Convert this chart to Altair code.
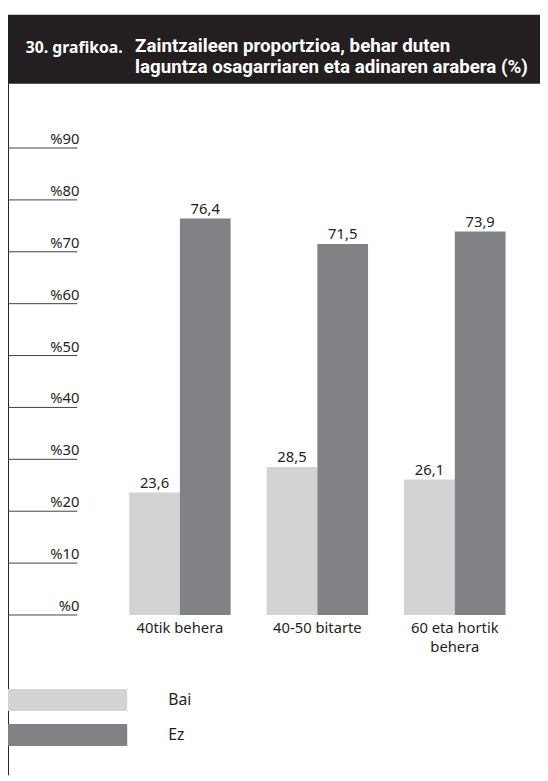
import altair as alt
import pandas as pd

# ---- data ----
CATEGORIES = ["40tik behera", "40-50 bitarte", "60 eta hortik\nbehera"]
SERIES = ["Bai", "Ez"]
BAI = [23.6, 28.5, 26.1]
EZ = [76.4, 71.5, 73.9]
TICKS = [0, 10, 20, 30, 40, 50, 60, 70, 80, 90]
TICK_LABELS = ["%0", "%10", "%20", "%30", "%40", "%50", "%60", "%70", "%80", "%90"]
TITLE_NUM = "30. grafikoa."
TITLE_LINE1 = "Zaintzaileen proportzioa, behar duten"
TITLE_LINE2 = "laguntza osagarriaren eta adinaren arabera (%)"
COLORS = ["#d1d3d4", "#808285"]

rows = []
for c, b, e in zip(CATEGORIES, BAI, EZ):
    rows.append({"cat": c, "serie": "Bai", "v": b})
    rows.append({"cat": c, "serie": "Ez", "v": e})
df = pd.DataFrame(rows)
df["lbl"] = df["v"].map(lambda x: f"{x:.1f}".replace(".", ","))

ticks = pd.DataFrame({"v": TICKS, "lab": TICK_LABELS})
one = pd.DataFrame({"k": [0]})

W, H = 540, 773
DARK = "#231f20"
FONT = "Noto Sans"
NARROW = "Liberation Sans Narrow, Roboto"

xs = alt.Scale(domain=CATEGORIES, range=[123, 505], paddingInner=0.262, paddingOuter=0)
ys = alt.Scale(domain=[0, 90], range=[610.3, 136.3])
xo = alt.Scale(domain=SERIES, paddingInner=0, paddingOuter=0)

banner = alt.Chart(one).mark_rect(color=DARK).encode(
    x=alt.value(0), x2=alt.value(W), y=alt.value(1), y2=alt.value(71))

title_num = alt.Chart(one).mark_text(
    text=TITLE_NUM, font="Noto Sans", fontWeight="bold", fontSize=16,
    color="white", align="left", baseline="alphabetic").encode(
    x=alt.value(18), y=alt.value(40))

title_l1 = alt.Chart(one).mark_text(
    text=TITLE_LINE1, font=NARROW, fontWeight="bold", fontSize=19,
    color="white", align="left", baseline="alphabetic").encode(
    x=alt.value(129), y=alt.value(39))

title_l2 = alt.Chart(one).mark_text(
    text=TITLE_LINE2, font=NARROW, fontWeight="bold", fontSize=19,
    color="white", align="left", baseline="alphabetic").encode(
    x=alt.value(129), y=alt.value(60))

border = alt.Chart(one).mark_rule(color=DARK, strokeWidth=1).encode(
    x=alt.value(0.5), y=alt.value(71), y2=alt.value(H))

tick_rules = alt.Chart(ticks).mark_rule(color="#414042", strokeWidth=1).encode(
    x=alt.value(0), x2=alt.value(70.3),
    y=alt.Y("v:Q", scale=ys, axis=None))

tick_text = alt.Chart(ticks).mark_text(
    align="right", baseline="alphabetic", dy=-4, font=FONT, fontSize=15, color=DARK).encode(
    x=alt.value(72.5), y=alt.Y("v:Q", scale=ys, axis=None), text="lab:N")

bars = alt.Chart(df).mark_bar().encode(
    x=alt.X("cat:N", scale=xs, axis=None, sort=CATEGORIES),
    xOffset=alt.XOffset("serie:N", scale=xo, sort=SERIES),
    y=alt.Y("v:Q", scale=ys, axis=None),
    color=alt.Color("serie:N", scale=alt.Scale(domain=SERIES, range=COLORS),
                    legend=alt.Legend(
                        title=None, orient="none", legendX=0, legendY=685.3,
                        symbolType="M-1,-0.185H1V0.185H-1Z", symbolSize=14641,
                        symbolStrokeWidth=0, clipHeight=22.4, rowPadding=12.6,
                        labelOffset=41.7, labelFont=FONT, labelFontSize=16,
                        labelColor=DARK, padding=0, symbolOpacity=1)))

values = alt.Chart(df).mark_text(
    baseline="alphabetic", dy=-5, font=FONT, fontSize=15, color=DARK).encode(
    x=alt.X("cat:N", scale=xs, axis=None, sort=CATEGORIES),
    xOffset=alt.XOffset("serie:N", scale=xo, sort=SERIES),
    y=alt.Y("v:Q", scale=ys, axis=None),
    text="lbl:N")

cats = alt.Chart(pd.DataFrame({"cat": CATEGORIES})).mark_text(
    baseline="top", dy=6, lineBreak="\n", lineHeight=19.5, font=FONT, fontSize=15,
    color=DARK).encode(
    x=alt.X("cat:N", scale=xs, axis=None, sort=CATEGORIES),
    y=alt.datum(0, scale=ys),
    text="cat:N")

chart = alt.layer(
    banner, title_num, title_l1, title_l2, border, tick_rules, tick_text, bars, values, cats
).properties(
    width=W, height=H, autosize=alt.AutoSizeParams(type="none"), padding=0
).configure_view(stroke=None)

chart.save("out.html", embed_options={"renderer": "svg", "actions": False})
